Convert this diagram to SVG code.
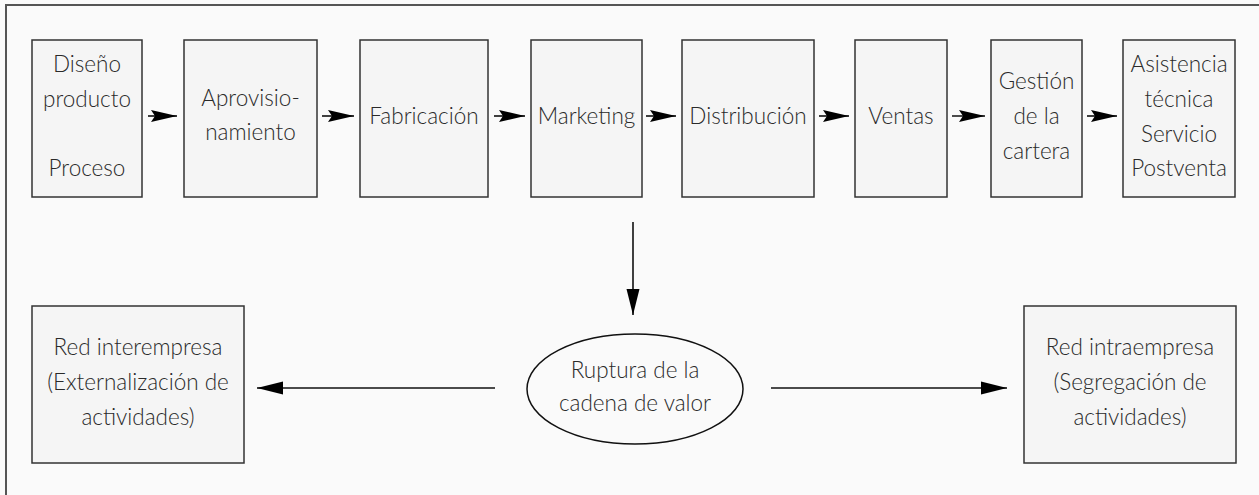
<svg xmlns="http://www.w3.org/2000/svg" width="1259" height="495" viewBox="0 0 1259 495">
<style>
.bg{fill:#fafafa}
.frame{fill:none;stroke:#555;stroke-width:2}
.box{fill:#f5f5f5;stroke:#333;stroke-width:1.5}
.ell{fill:#fafafa;stroke:#111;stroke-width:1.5}
text{font-family:Lato,"Liberation Sans",Arial,sans-serif;font-weight:300;font-size:22.5px;fill:#2a2a2a;text-anchor:middle}
.conn line{stroke:#111;stroke-width:1.6}
</style>
<defs>
<marker id="ah" viewBox="0 0 26 13" refX="26" refY="6.5" markerWidth="26" markerHeight="13" markerUnits="userSpaceOnUse" orient="auto">
<path d="M0,0.5 L26,6.5 L0,12.5 L4,6.5 Z" fill="#000"/>
</marker>
<marker id="ah2" viewBox="0 0 26 14" refX="26" refY="7" markerWidth="26" markerHeight="14" markerUnits="userSpaceOnUse" orient="auto">
<path d="M0,0.5 L26,7 L0,13.5 Z" fill="#000"/>
</marker>
</defs>
<rect class="bg" x="0" y="0" width="1259" height="495"/>
<path class="frame" d="M6,500 V5 H1265"/>

<g id="n1"><rect class="box" x="32" y="40" width="110" height="157"/>
<text x="87" y="72">Diseño</text><text x="87" y="107">producto</text><text x="87" y="176">Proceso</text></g>
<g id="n2"><rect class="box" x="184" y="40" width="133" height="157"/>
<text x="250.5" y="106">Aprovisio-</text><text x="250.5" y="140">namiento</text></g>
<g id="n3"><rect class="box" x="360" y="40" width="128" height="157"/>
<text x="424" y="124">Fabricación</text></g>
<g id="n4"><rect class="box" x="531" y="40" width="111" height="157"/>
<text x="586.5" y="124">Marketing</text></g>
<g id="n5"><rect class="box" x="682" y="40" width="132" height="157"/>
<text x="748" y="124">Distribución</text></g>
<g id="n6"><rect class="box" x="855" y="40" width="92" height="157"/>
<text x="901" y="124">Ventas</text></g>
<g id="n7"><rect class="box" x="991" y="40" width="91" height="157"/>
<text x="1036.5" y="89">Gestión</text><text x="1036.5" y="124">de la</text><text x="1036.5" y="159">cartera</text></g>
<g id="n8"><rect class="box" x="1123" y="40" width="112" height="157"/>
<text x="1179" y="72">Asistencia</text><text x="1179" y="107">técnica</text><text x="1179" y="142">Servicio</text><text x="1179" y="176">Postventa</text></g>

<g id="ruptura"><ellipse class="ell" cx="635" cy="389" rx="108" ry="55"/>
<text x="635" y="378">Ruptura de la</text><text x="635" y="411">cadena de valor</text></g>
<g id="inter"><rect class="box" x="32" y="306" width="212" height="157"/>
<text x="138" y="355">Red interempresa</text><text x="138" y="390">(Externalización de</text><text x="138" y="425">actividades)</text></g>
<g id="intra"><rect class="box" x="1024" y="306" width="212" height="157"/>
<text x="1130" y="355">Red intraempresa</text><text x="1130" y="390">(Segregación de</text><text x="1130" y="425">actividades)</text></g>

<g class="conn" id="connectors">
<line x1="148" y1="116" x2="177" y2="116" marker-end="url(#ah)"/>
<line x1="322" y1="116" x2="354" y2="116" marker-end="url(#ah)"/>
<line x1="494" y1="116" x2="525" y2="116" marker-end="url(#ah)"/>
<line x1="646" y1="116" x2="676" y2="116" marker-end="url(#ah)"/>
<line x1="819" y1="116" x2="849" y2="116" marker-end="url(#ah)"/>
<line x1="952" y1="116" x2="985" y2="116" marker-end="url(#ah)"/>
<line x1="1087" y1="116" x2="1117" y2="116" marker-end="url(#ah)"/>
<line x1="633" y1="222" x2="633" y2="315" marker-end="url(#ah2)"/>
<line x1="495" y1="388" x2="257" y2="388" marker-end="url(#ah2)"/>
<line x1="771" y1="388" x2="1007" y2="388" marker-end="url(#ah2)"/>
</g>
</svg>
